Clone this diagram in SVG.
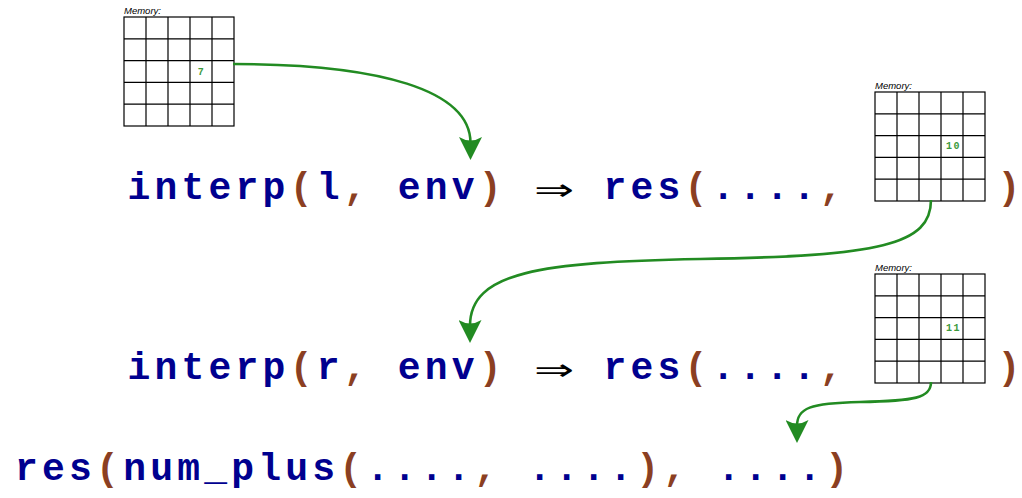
<svg xmlns="http://www.w3.org/2000/svg" xmlns:xlink="http://www.w3.org/1999/xlink" width="1022" height="498" viewBox="0 0 1022 498">
<style>
.code{font-family:"Liberation Mono","Courier New",monospace;font-weight:bold;font-size:38px;letter-spacing:4.2px;fill:#00008f;white-space:pre}
.solo{letter-spacing:0}
.p{fill:#8b3f22}
.arr{font-family:"DejaVu Sans",sans-serif;font-weight:normal;font-size:30px;fill:#000}
.lbl{font-family:"Liberation Sans",Arial,sans-serif;font-style:italic;font-size:9.5px;fill:#000}
.num{font-family:"Liberation Mono","Courier New",monospace;font-weight:bold;font-size:10px;letter-spacing:1.5px;fill:#3c9a3c}
.conn{fill:none;stroke:#228b22;stroke-width:2.6}
.gl{stroke:#000;stroke-width:1.2;fill:none}
</style>
<defs>
<marker id="ah" viewBox="0 0 23 23" refX="6" refY="11.5" markerWidth="23" markerHeight="23" markerUnits="userSpaceOnUse" orient="auto">
<path d="M23,11.5 L0,0 Q7,11.5 0,23 Z" fill="#228b22"/>
</marker>
<g id="grid">
<rect class="gl" x="0" y="0" width="110" height="109" fill="#fff"/>
<path class="gl" d="M22,0V109M44,0V109M66,0V109M88,0V109M0,21.8H110M0,43.6H110M0,65.4H110M0,87.2H110"/>
</g>
</defs>
<rect width="1022" height="498" fill="#fff"/>

<g id="mem1">
<text class="lbl" x="124" y="13.5">Memory:</text>
<use xlink:href="#grid" transform="translate(124,17)"/>
<text class="num" x="201.5" y="74.5" text-anchor="middle">7</text>
</g>

<g id="mem2">
<text class="lbl" x="875" y="88.5">Memory:</text>
<use xlink:href="#grid" transform="translate(875,92)"/>
<text class="num" x="953.5" y="149" text-anchor="middle">10</text>
</g>

<g id="mem3">
<text class="lbl" x="875" y="270.5">Memory:</text>
<use xlink:href="#grid" transform="translate(875,274)"/>
<text class="num" x="953.5" y="330.5" text-anchor="middle">11</text>
</g>

<g id="expr1">
<text class="code" x="127.6" y="199">interp<tspan class="p">(</tspan>l<tspan class="p">,</tspan> env<tspan class="p">)</tspan></text>
<text class="arr" transform="translate(554,199.5) scale(1.6,1)" text-anchor="middle">⇒</text>
<text class="code" x="603.6" y="199">res<tspan class="p">(</tspan>....<tspan class="p">,</tspan></text>
<text class="code solo p" x="997.6" y="199">)</text>
</g>

<g id="expr2">
<text class="code" x="127.6" y="379">interp<tspan class="p">(</tspan>r<tspan class="p">,</tspan> env<tspan class="p">)</tspan></text>
<text class="arr" transform="translate(554,379.5) scale(1.6,1)" text-anchor="middle">⇒</text>
<text class="code" x="603.6" y="379">res<tspan class="p">(</tspan>....<tspan class="p">,</tspan></text>
<text class="code solo p" x="997.6" y="379">)</text>
</g>

<g id="expr3">
<text class="code" x="15.1" y="480">res<tspan class="p">(</tspan>num_plus<tspan class="p">(</tspan>....<tspan class="p">,</tspan> ....<tspan class="p">),</tspan> ....<tspan class="p">)</tspan></text>
</g>

<g id="connectors">
<path class="conn" d="M233,64 C380,64 470.5,90 470.5,143" marker-end="url(#ah)"/>
<path class="conn" d="M931,200 C931,245 880,256 700,259 C540,262 470,272 470,326" marker-end="url(#ah)"/>
<path class="conn" d="M931,382 C931,398 915,401 860,402 C810,403 797,408 797,426" marker-end="url(#ah)"/>
</g>
</svg>
